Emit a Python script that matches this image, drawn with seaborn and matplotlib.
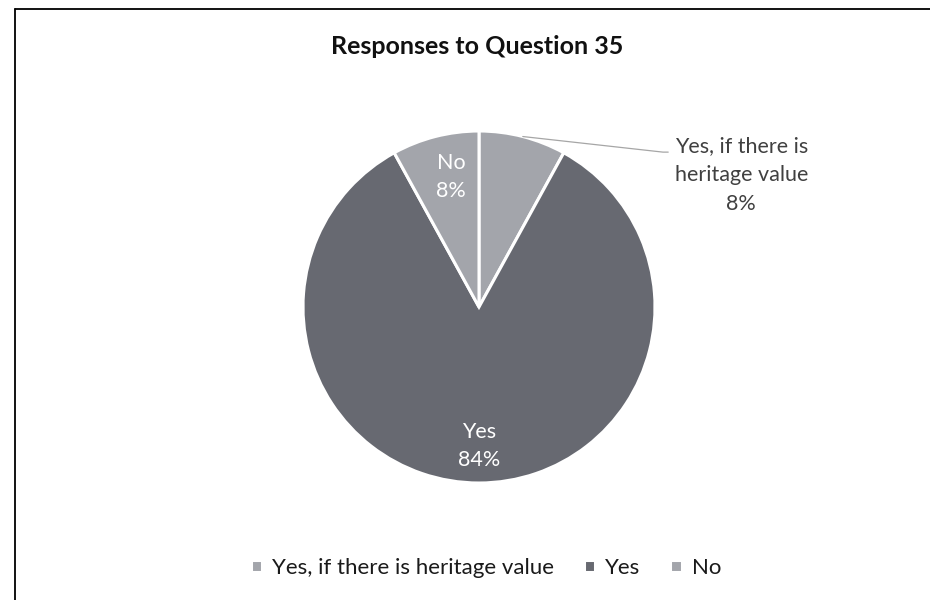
import numpy as np
import matplotlib
matplotlib.use("Agg")
import matplotlib.pyplot as plt
from matplotlib.lines import Line2D
import seaborn as sns

# Survey answers and their shares (%)
categories = ["Yes, if there is heritage value", "Yes", "No"]
shares = [8, 84, 8]
slice_colors = ["#a3a5ab", "#676971", "#a3a5ab"]

sns.set_theme(style="white")
plt.rcParams["font.family"] = ["Lato", "DejaVu Sans"]

W, H = 930, 600
fig = plt.figure(figsize=(W / 100, H / 100), dpi=100)

# pie placed so that its centre is at (479, 307) px with radius 176 px
cx, cy, r = 479, 307, 176
ax = fig.add_axes([(cx - r) / W, (H - cy - r) / H, 2 * r / W, 2 * r / H])
wedges, _ = ax.pie(
    shares,
    colors=slice_colors,
    startangle=90,
    counterclock=False,
    wedgeprops=dict(edgecolor="white", linewidth=2.2),
)
ax.set_xlim(-1, 1)
ax.set_ylim(-1, 1)
ax.set_aspect("equal")
ax.axis("off")

total = sum(shares)
label_text = "#404040"
for w, cat, val in zip(wedges, categories, shares):
    mid = np.deg2rad((w.theta1 + w.theta2) / 2)
    pct = f"{round(100 * val / total)}%"
    if cat != categories[0]:
        rr = 0.76 if cat == "No" else 0.79
        ax.text(rr * np.cos(mid) + (0.03 if cat == "No" else 0.0),
                rr * np.sin(mid), f"{cat}\n{pct}",
                ha="center", va="center", color="white", fontsize=15.5,
                linespacing=1.5)
    else:
        x0, y0 = np.cos(mid), np.sin(mid)
        ax.plot([x0, 1.045, 1.075], [y0, 0.88, 0.88], color="#a6a6a6",
                lw=0.9, clip_on=False)
        ax.text(1.49, 0.75, "Yes, if there is\nheritage value\n" + pct,
                ha="center", va="center", color=label_text, fontsize=15.5,
                linespacing=1.55)

fig.text(477 / W, 1 - 47 / H, "Responses to Question 35", ha="center",
         va="center", fontsize=18, fontweight="bold", color="#111111")

leg = fig.legend(
    wedges, categories,
    loc="center", bbox_to_anchor=(486 / W, 1 - 568 / H),
    ncol=3, frameon=False, fontsize=16,
    handlelength=0.5, handleheight=0.5, handletextpad=0.45,
    columnspacing=1.35,
)
for t in leg.get_texts():
    t.set_color("#1a1a1a")

# chart border (left and top edges)
fig.add_artist(Line2D([14.5 / W, 14.5 / W], [0, 1 - 8.5 / H],
                      transform=fig.transFigure, color="black", lw=1.3))
fig.add_artist(Line2D([14.5 / W, 1], [1 - 8.5 / H, 1 - 8.5 / H],
                      transform=fig.transFigure, color="black", lw=1.3))

fig.savefig("out.png", dpi=100, facecolor="white")
